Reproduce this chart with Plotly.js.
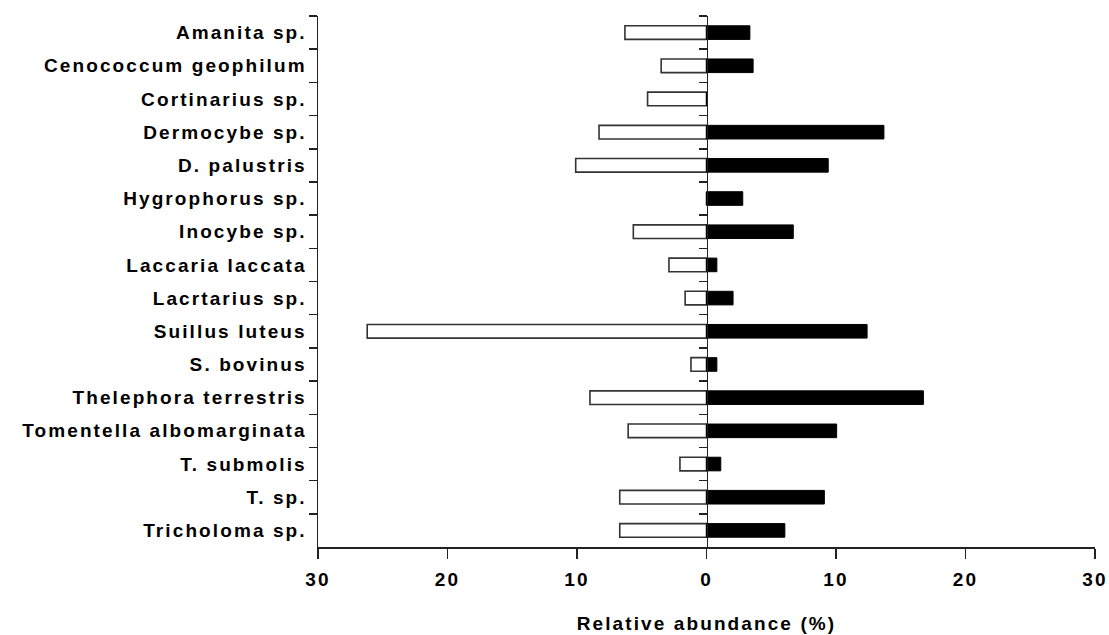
<!DOCTYPE html>
<html>
<head>
<meta charset="utf-8">
<script src="https://cdn.plot.ly/plotly-3.0.1.min.js"></script>
<style>
  html, body { margin: 0; padding: 0; background: #fff; }
  #chart { width: 1109px; height: 635px; }
  #chart .ytick text, #chart .xtick text, #chart .g-xtitle text { letter-spacing: 2.1px; }
</style>
</head>
<body>
<div id="chart"></div>
<script>
// Categories, top to bottom
const categories = [
  "Amanita sp.",
  "Cenococcum geophilum",
  "Cortinarius sp.",
  "Dermocybe sp.",
  "D. palustris",
  "Hygrophorus sp.",
  "Inocybe sp.",
  "Laccaria laccata",
  "Lacrtarius sp.",
  "Suillus luteus",
  "S. bovinus",
  "Thelephora terrestris",
  "Tomentella albomarginata",
  "T. submolis",
  "T. sp.",
  "Tricholoma sp."
];

// Relative abundance (%) drawn to the left (white bars), as magnitudes
const leftValues = [6.3, 3.5, 4.55, 8.3, 10.1, 0, 5.65, 2.9, 1.65, 26.2, 1.2, 9.0, 6.05, 2.05, 6.7, 6.7];

// Relative abundance (%) drawn to the right (black bars)
const rightValues = [3.35, 3.6, 0, 13.7, 9.4, 2.8, 6.7, 0.8, 2.05, 12.4, 0.8, 16.75, 10.05, 1.1, 9.1, 6.05];

// X tick labels
const xTickVals = [-30, -20, -10, 0, 10, 20, 30];
const xTickText = ["30", "20", "10", "0", "10", "20", "30"];

const labelFont = { family: "Liberation Sans, Arial, sans-serif", size: 19, color: "#000", weight: "bold" };

const traces = [
  {
    type: "bar",
    orientation: "h",
    y: categories,
    x: leftValues.map(v => -v),
    width: 0.41,
    marker: { color: "#ffffff", line: { color: "#333333", width: 1.6 } },
    yaxis: "y",
    hoverinfo: "skip"
  },
  {
    type: "bar",
    orientation: "h",
    y: categories,
    x: rightValues,
    width: 0.41,
    marker: { color: "#000000", line: { color: "#000000", width: 1 } },
    yaxis: "y2",
    hoverinfo: "skip"
  }
];

const layout = {
  width: 1109,
  height: 635,
  margin: { l: 318, r: 14, t: 16, b: 88 },
  paper_bgcolor: "#ffffff",
  plot_bgcolor: "#ffffff",
  showlegend: false,
  barmode: "overlay",
  xaxis: {
    range: [-30, 30],
    tickvals: xTickVals,
    ticktext: xTickText,
    ticks: "outside",
    ticklen: 10,
    tickwidth: 1.5,
    tickcolor: "#222",
    showline: true,
    linecolor: "#222",
    linewidth: 1.5,
    showgrid: false,
    zeroline: false,
    tickfont: labelFont,
    ticklabelstandoff: 5,
    title: { text: "Relative abundance (%)", font: labelFont, standoff: 27 },
    automargin: false,
    fixedrange: true
  },
  yaxis: {
    type: "category",
    categoryorder: "array",
    categoryarray: categories,
    range: [15.5, -0.5],
    tickson: "boundaries",
    ticks: "outside",
    ticklen: 8,
    tickwidth: 1.5,
    tickcolor: "#222",
    showline: true,
    linecolor: "#222",
    linewidth: 1.5,
    showgrid: false,
    zeroline: false,
    tickfont: labelFont,
    ticklabelstandoff: 6,
    automargin: false,
    fixedrange: true
  },
  yaxis2: {
    type: "category",
    categoryorder: "array",
    categoryarray: categories,
    matches: "y",
    overlaying: "y",
    anchor: "free",
    position: 0.5,
    side: "left",
    tickson: "boundaries",
    ticks: "outside",
    ticklen: 8,
    tickwidth: 1.5,
    tickcolor: "#222",
    showline: true,
    linecolor: "#222",
    linewidth: 1.5,
    showgrid: false,
    zeroline: false,
    showticklabels: false,
    automargin: false,
    fixedrange: true
  }
};

Plotly.newPlot("chart", traces, layout, { displayModeBar: false, staticPlot: true });
</script>
</body>
</html>
